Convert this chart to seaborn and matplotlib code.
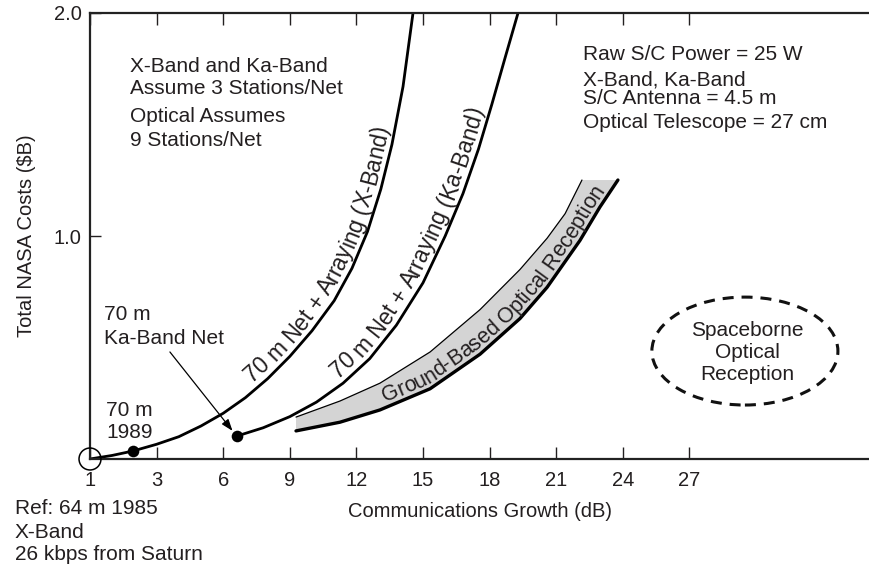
import numpy as np
import pandas as pd
import matplotlib
matplotlib.use("Agg")
import matplotlib.pyplot as plt
import seaborn as sns
from matplotlib.patches import Ellipse
from matplotlib.textpath import TextToPath
from matplotlib.font_manager import FontProperties

# ---------------- data ----------------
xband_db = [0.0, 1.0, 1.94, 3.0, 4.0, 5.0, 6.0, 7.0, 8.0, 9.0, 10.0, 11.0,
            11.8, 12.5, 13.1, 13.6, 14.1, 14.55]
xband_cost = [0.0, 0.016, 0.036, 0.066, 0.10, 0.148, 0.205, 0.275, 0.36, 0.46,
              0.575, 0.71, 0.855, 1.02, 1.21, 1.41, 1.67, 2.0]

kaband_db = [6.62, 7.8, 9.0, 10.2, 11.4, 12.6, 13.8, 15.0, 16.0, 16.8, 17.5,
             18.1, 18.7, 19.28]
kaband_cost = [0.103, 0.14, 0.19, 0.255, 0.34, 0.45, 0.60, 0.79, 1.0, 1.19,
               1.39, 1.59, 1.8, 2.0]

optical_low_db = [9.28, 11.26, 13.06, 15.32, 17.57, 19.37, 20.59, 22.07, 22.97, 23.78]
optical_low_cost = [0.126, 0.165, 0.22, 0.315, 0.47, 0.63, 0.77, 0.98, 1.13, 1.251]
optical_high_db = [9.28, 11.26, 13.06, 15.32, 17.57, 19.37, 20.59, 21.40, 22.16]
optical_high_cost = [0.188, 0.26, 0.34, 0.48, 0.67, 0.85, 0.99, 1.10, 1.251]

milestone_db = [1.94, 6.62]
milestone_cost = [0.036, 0.103]
ref_db = [0.0]
ref_cost = [0.0]

spaceborne_center = (29.5, 0.484)
spaceborne_width = 8.38
spaceborne_height = 0.484

xtick_pos = [0, 3, 6, 9, 12, 15, 18, 21, 24, 27]
xtick_labels = ["1", "3", "6", "9", "12", "15", "18", "21", "24", "27"]
ytick_pos = [1.0, 2.0]
ytick_labels = ["1.0", "2.0"]

# ---------------- style ----------------
sns.set_style("ticks")
FONT = ["Liberation Sans", "DejaVu Sans"]
plt.rcParams["font.family"] = FONT
TXT = "#231f20"
plt.rcParams["text.color"] = TXT
plt.rcParams["axes.labelcolor"] = TXT
plt.rcParams["xtick.color"] = TXT
plt.rcParams["ytick.color"] = TXT

W, H = 870, 564
fig = plt.figure(figsize=(W / 100, H / 100), dpi=100)
ax = fig.add_axes([90 / W, (H - 459) / H, (W - 90) / W, (459 - 13) / H])

ax.set_xlim(0, 780 / 22.2)
ax.set_ylim(0, 2.0)

for sp in ["left", "bottom", "top"]:
    ax.spines[sp].set_linewidth(1.6)
    ax.spines[sp].set_color("#222222")
ax.spines["right"].set_visible(False)

ax.set_xticks(xtick_pos)
ax.set_xticklabels(xtick_labels)
ax.set_yticks(ytick_pos)
ax.set_yticklabels(ytick_labels)
ax.tick_params(axis="x", which="both", direction="in", top=True, bottom=True,
               length=8.5, width=1.0, labelsize=14.5, pad=8.5, colors=TXT)
ax.tick_params(axis="y", which="both", direction="in", left=True, right=False,
               length=8, width=1.0, labelsize=14.5, pad=6, colors=TXT)
ax.set_xlabel("Communications Growth (dB)", fontsize=14.5, labelpad=9)
ax.set_ylabel("Total NASA Costs ($B)", fontsize=14.5, labelpad=13)

# ---------------- marks ----------------
xb = pd.DataFrame({"db": xband_db, "cost": xband_cost})
kb = pd.DataFrame({"db": kaband_db, "cost": kaband_cost})
sns.lineplot(data=xb, x="db", y="cost", sort=False, estimator=None,
             color="black", linewidth=2.0, ax=ax)
sns.lineplot(data=kb, x="db", y="cost", sort=False, estimator=None,
             color="black", linewidth=2.0, ax=ax)

# optical band
poly_x = list(optical_low_db) + list(optical_high_db[::-1])
poly_y = list(optical_low_cost) + list(optical_high_cost[::-1])
ax.fill(poly_x, poly_y, color="#d4d4d4", lw=0, zorder=1)
lo = pd.DataFrame({"db": optical_low_db, "cost": optical_low_cost})
hi = pd.DataFrame({"db": optical_high_db, "cost": optical_high_cost})
sns.lineplot(data=lo, x="db", y="cost", sort=False, estimator=None,
             color="black", linewidth=2.4, ax=ax)
sns.lineplot(data=hi, x="db", y="cost", sort=False, estimator=None,
             color="black", linewidth=0.9, ax=ax)

# milestone dots and reference circle
sns.scatterplot(x=milestone_db, y=milestone_cost, color="black", s=70,
                edgecolor="black", linewidth=0, ax=ax, zorder=5)
ax.scatter(ref_db, ref_cost, s=250, facecolors="none", edgecolors="black",
           linewidths=1.1, clip_on=False, zorder=6)

# spaceborne ellipse
ell = Ellipse(spaceborne_center, spaceborne_width, spaceborne_height,
              fill=False, edgecolor="#111111", linewidth=2.2,
              linestyle=(0, (3.6, 2.6)))
ax.add_patch(ell)

# arrow
ax.annotate("", xy=(6.42, 0.126), xytext=(3.6, 0.48),
            arrowprops=dict(arrowstyle="-|>,head_length=0.7,head_width=0.25",
                            color="black", lw=0.9, shrinkA=0, shrinkB=0))

# ---------------- texts ----------------
def ftext(px, py, s, **kw):
    kw.setdefault("fontsize", 15)
    kw.setdefault("va", "center")
    kw.setdefault("ha", "left")
    fig.text(px / W, 1 - py / H, s, color=TXT, **kw)

ftext(130, 66, "X-Band and Ka-Band")
ftext(130, 89, "Assume 3 Stations/Net")
ftext(130, 117, "Optical Assumes")
ftext(130, 140, "9 Stations/Net")

ftext(583, 55, "Raw S/C Power = 25 W")
ftext(583, 80, "X-Band, Ka-Band")
ftext(583, 98, "S/C Antenna = 4.5 m")
ftext(583, 122, "Optical Telescope = 27 cm")

ftext(104, 315, "70 m")
ftext(104, 338, "Ka-Band Net")
ftext(106, 410, "70 m")
ftext(106, 432, "1989")

ftext(15, 509, "Ref: 64 m 1985")
ftext(15, 532, "X-Band")
ftext(15, 554, "26 kbps from Saturn")

ftext(747, 330, "Spaceborne", ha="center")
ftext(747, 353, "Optical", ha="center")
ftext(747, 375, "Reception", ha="center")


def curved_text(xs, ys, text, center_y, offset, fontsize=15):
    pts = ax.transData.transform(np.column_stack([xs, ys]))
    seg = np.hypot(np.diff(pts[:, 0]), np.diff(pts[:, 1]))
    s = np.concatenate([[0.0], np.cumsum(seg)])
    s_c = np.interp(center_y, ys, s)
    fp = FontProperties(family=FONT, size=fontsize)
    ttp = TextToPath()
    k = fig.dpi / 72.0

    def w(t):
        return ttp.get_text_width_height_descent(t, fp, ismath=False)[0] * k

    base = w("x")
    lefts = [w(text[:i] + "x") - base if i > 0 else 0.0 for i in range(len(text) + 1)]
    L = lefts[-1]
    inv = ax.transData.inverted()
    for i, ch in enumerate(text):
        if ch == " ":
            continue
        c = s_c - L / 2 + (lefts[i] + lefts[i + 1]) / 2
        px = np.interp(c, s, pts[:, 0])
        py = np.interp(c, s, pts[:, 1])
        p1 = np.array([np.interp(c - 14, s, pts[:, 0]), np.interp(c - 14, s, pts[:, 1])])
        p2 = np.array([np.interp(c + 14, s, pts[:, 0]), np.interp(c + 14, s, pts[:, 1])])
        d = p2 - p1
        ang = np.arctan2(d[1], d[0])
        nx, ny = -np.sin(ang), np.cos(ang)
        q = inv.transform((px + nx * offset, py + ny * offset))
        ax.text(q[0], q[1], ch, rotation=np.degrees(ang), rotation_mode="anchor",
                ha="center", va="baseline", fontsize=fontsize, color=TXT,
                family=FONT)


curved_text(xband_db, xband_cost, "70 m Net + Arraying (X-Band)", 0.84, 6.5, 16.5)
curved_text(kaband_db, kaband_cost, "70 m Net + Arraying (Ka-Band)", 0.90, 6.5, 16.5)
curved_text(optical_low_db, optical_low_cost, "Ground-Based Optical Reception", 0.62, 5, 15.5)

fig.savefig("out.png", dpi=100)
